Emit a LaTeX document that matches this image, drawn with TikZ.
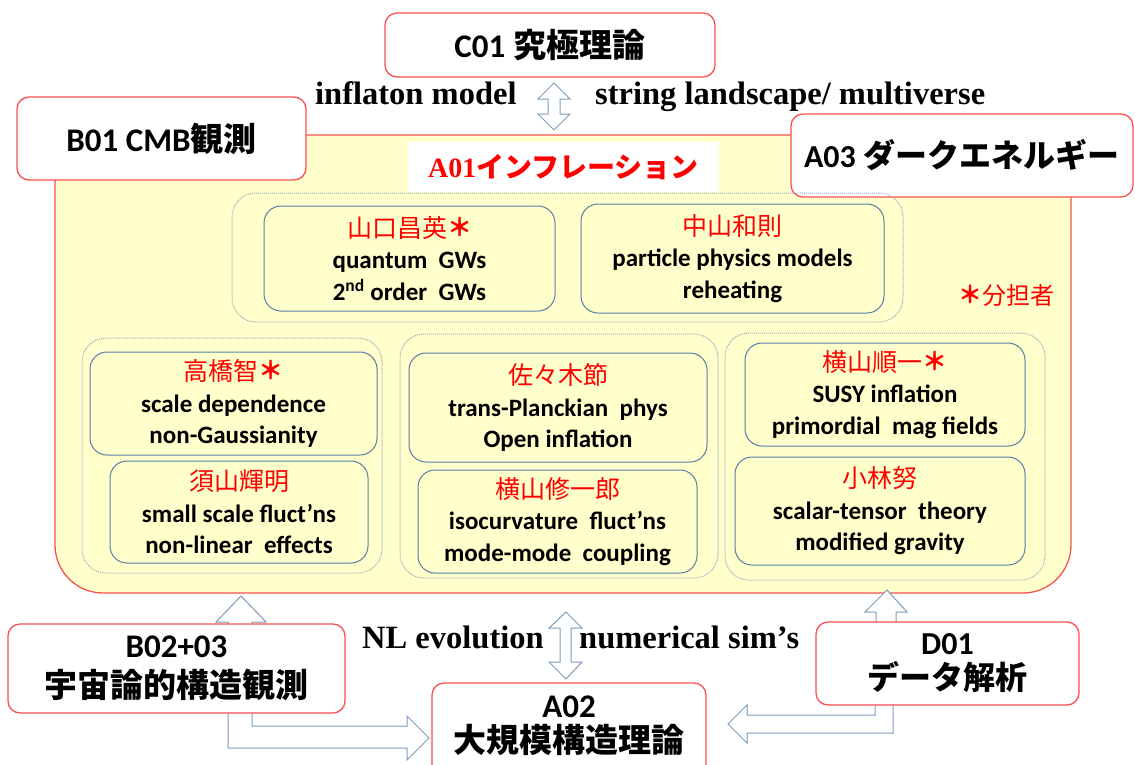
\documentclass[tikz,border=0pt]{standalone}
\usepackage{fontspec}
\setmainfont{Liberation Serif}
\newfontfamily\clbfont{Carlito}
\newfontfamily\jpfont{Noto Sans CJK JP}
\newcommand\cbx[1]{{\clbfont\bfseries #1}}
\newcommand\jbx[1]{{\jpfont\bfseries #1}}
\newcommand\jrx[1]{{\jpfont #1}}
\newcommand\bstar{{\jpfont\bfseries\raisebox{1pt}{＊}}}
\definecolor{redbd}{RGB}{250,80,80}
\definecolor{yel}{RGB}{255,255,204}
\definecolor{inbd}{RGB}{90,125,165}
\definecolor{grpbd}{RGB}{150,170,190}
\definecolor{arbd}{RGB}{125,155,190}
\begin{document}
\begin{tikzpicture}[x=1pt,y=-1pt,
  redbox/.style={draw=redbd,line width=1.3pt,fill=white,rounded corners=12pt,inner sep=0pt,align=center},
  inbox/.style={draw=inbd,line width=1pt,rounded corners=17pt,inner sep=0pt,align=center,font=\fontsize{25}{31.5}\selectfont},
  grp/.style={draw=grpbd,line width=1pt,densely dotted,rounded corners=24pt,inner sep=0pt},
  blk/.style={draw=arbd,line width=1pt,fill=white,line join=miter},
  lbl/.style={font=\fontsize{32.5}{36}\selectfont\bfseries,inner sep=0pt,anchor=base west}]
\useasboundingbox (0,0) rectangle (1135,764);
\clip (0,0) rectangle (1135,764);

% main A01 box
\node[draw=redbd,line width=1.3pt,fill=yel,rounded corners=48pt,minimum width=1016,minimum height=458,inner sep=0pt] (a01) at (563,364) {};

% C01 <-> A01 double arrow
\draw[blk] (554,83) -- (570,99) -- (560,99) -- (560,114) -- (570,114) -- (554,130) -- (538,114) -- (548,114) -- (548,99) -- (538,99) -- cycle;

% top boxes
\node[redbox,minimum width=330,minimum height=64,font=\fontsize{33}{36}\selectfont] (c01) at (550,45) {\cbx{C01} \jbx{究極理論}};
\node[redbox,minimum width=289,minimum height=83,font=\fontsize{33}{36}\selectfont] (b01) at (161.5,138.5) {\cbx{B01 CMB}\jbx{観測}};
\node[redbox,minimum width=342,minimum height=83,font=\fontsize{32}{36}\selectfont] (a03) at (962,155.5) {\cbx{A03} \jbx{ダークエネルギー}};

% title
\node[fill=white,minimum width=311,minimum height=50,inner sep=0pt,text=red,font=\fontsize{28}{32}\selectfont] (title) at (563.5,167) {\textbf{A01}\jbx{インフレーション}};

% groups
\node[grp,minimum width=671,minimum height=129] (g1) at (567.5,257.5) {};
\node[grp,minimum width=300,minimum height=235] (g2) at (232,455.5) {};
\node[grp,minimum width=318,minimum height=244] (g3) at (559,456) {};
\node[grp,minimum width=320,minimum height=247] (g4) at (885,456.5) {};

% inner boxes
\node[inbox,minimum width=291,minimum height=105] (yamaguchi) at (409.5,258.5)
  {\textcolor{red}{\jrx{山口昌英}\bstar}\\\cbx{quantum\ \ GWs}\\\cbx{2\textsuperscript{nd} order\ \ GWs}};
\node[inbox,minimum width=303,minimum height=109] (nakayama) at (732.5,258.5)
  {\textcolor{red}{\jrx{中山和則}}\\\cbx{particle physics models}\\\cbx{reheating}};
\node[inbox,minimum width=287,minimum height=103] (takahashi) at (233.5,403.5)
  {\textcolor{red}{\jrx{高橋智}\bstar}\\\cbx{scale dependence}\\\cbx{non-Gaussianity}};
\node[inbox,minimum width=258,minimum height=102] (suyama) at (239,512)
  {\textcolor{red}{\jrx{須山輝明}}\\\cbx{small scale fluct’ns}\\\cbx{non-linear\ \ effects}};
\node[inbox,minimum width=298,minimum height=109] (sasaki) at (558,407.5)
  {\textcolor{red}{\jrx{佐々木節}}\\\cbx{trans-Planckian\ \ phys}\\\cbx{Open inflation}};
\node[inbox,minimum width=279,minimum height=103] (shuichiro) at (557.5,521.5)
  {\textcolor{red}{\jrx{横山修一郎}}\\\cbx{isocurvature\ \ fluct’ns}\\\cbx{mode-mode\ \ coupling}};
\node[inbox,minimum width=280,minimum height=103] (junichi) at (885,394.5)
  {\textcolor{red}{\jrx{横山順一}\bstar}\\\cbx{SUSY inflation}\\\cbx{primordial\ \ mag\ fields}};
\node[inbox,minimum width=290,minimum height=108] (kobayashi) at (880,511)
  {\textcolor{red}{\jrx{小林努}}\\\cbx{scalar-tensor\ \ theory}\\\cbx{modified gravity}};

\node[text=red,font=\fontsize{24}{28}\selectfont,inner sep=0pt] (star) at (1006,295) {\bstar\jrx{分担者}};

% lower arrows
\draw[blk] (241,596) -- (266,622) -- (252,622) -- (252,630) -- (228,630) -- (228,622) -- (216,622) -- cycle;
\draw[blk] (887,590) -- (907,612) -- (896,612) -- (896,628) -- (876,628) -- (876,612) -- (865,612) -- cycle;
\draw[blk] (566,612) -- (582,628) -- (571,628) -- (571,662) -- (582,662) -- (566,679) -- (549,662) -- (560,662) -- (560,628) -- (549,628) -- cycle;
\draw[blk] (228,705) -- (228,748) -- (407,748) -- (407,760) -- (429,738) -- (407,716) -- (407,726) -- (252,726) -- (252,705) -- cycle;
\draw[blk] (875,700) -- (875,715) -- (747,715) -- (747,705) -- (728,724) -- (747,743) -- (747,733) -- (893,733) -- (893,700) -- cycle;

% bottom boxes
\node[redbox,minimum width=337,minimum height=89,font=\fontsize{33}{40}\selectfont] (b02) at (176.5,668.5) {\cbx{B02+03}\\\jbx{宇宙論的構造観測}};
\node[redbox,minimum width=274,minimum height=107] (a02) at (569,736.5) {};
\node[inner sep=0pt,align=center,font=\fontsize{33}{35}\selectfont] (a02t) at (569,726) {\cbx{A02}\\\jbx{大規模構造理論}};
\node[redbox,minimum width=263,minimum height=83,font=\fontsize{32}{35}\selectfont] (d01) at (947.5,663.5) {\cbx{D01}\\\jbx{データ解析}};

% labels
\node[lbl] (l1) at (315,104) {inflaton model};
\node[lbl] (l2) at (595,104) {string landscape/ multiverse};
\node[lbl] (l3) at (362,648) {NL evolution};
\node[lbl] (l4) at (579,648) {numerical sim’s};
\end{tikzpicture}
\end{document}
